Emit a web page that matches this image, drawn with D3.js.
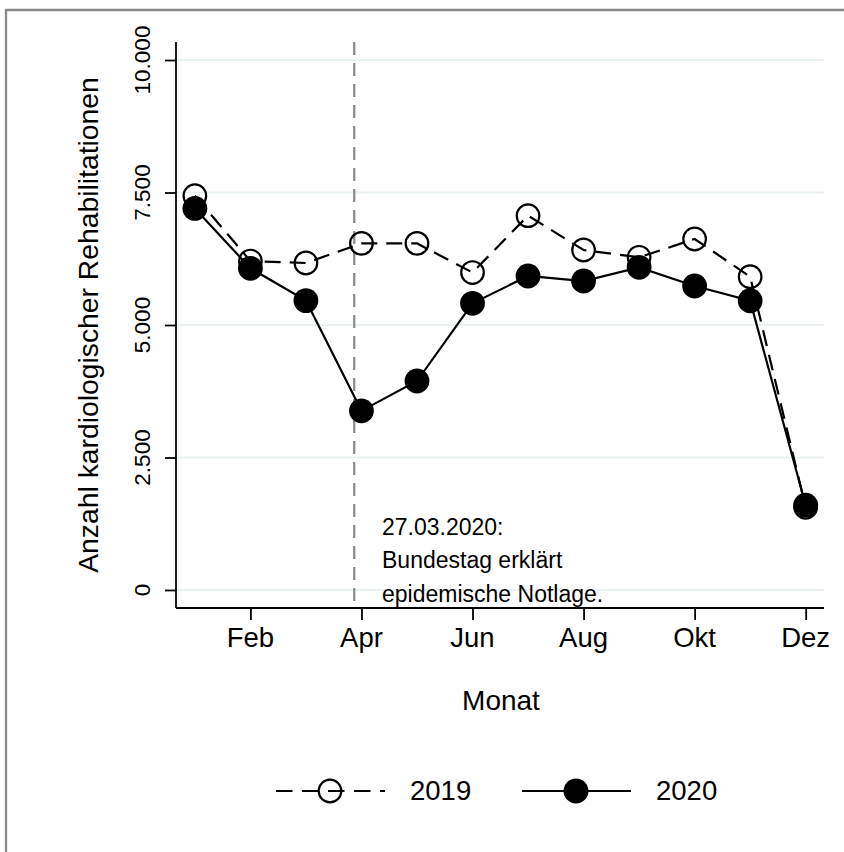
<!DOCTYPE html>
<html>
<head>
<meta charset="utf-8">
<script src="https://cdn.jsdelivr.net/npm/d3@7"></script>
<style>
  html, body { margin: 0; padding: 0; background: #fff; }
  svg { display: block; font-family: "Liberation Sans", Arial, Helvetica, sans-serif; }
</style>
</head>
<body>
<svg id="chart" width="844" height="852"></svg>
<script>
// ---- data ----
const months = [1, 2, 3, 4, 5, 6, 7, 8, 9, 10, 11, 12];
const values2019 = [7440, 6207, 6170, 6540, 6540, 5990, 7063, 6415, 6277, 6623, 5912, 1560];
const values2020 = [7200, 6070, 5460, 3380, 3943, 5409, 5925, 5830, 6088, 5736, 5458, 1600];
const xTickMonths = [2, 4, 6, 8, 10, 12];
const xTickLabels = ["Feb", "Apr", "Jun", "Aug", "Okt", "Dez"];
const yTickValues = [0, 2500, 5000, 7500, 10000];
const yTickLabels = ["0", "2.500", "5.000", "7.500", "10.000"];
const seriesNames = ["2019", "2020"];
const eventMonth = 3.87;
const eventLines = ["27.03.2020:", "Bundestag erklärt", "epidemische Notlage."];

// ---- layout ----
const svg = d3.select("#chart");
const x = d3.scaleLinear().domain([0.66, 12.33]).range([176, 824]);
const y = d3.scaleLinear().domain([-340, 10340]).range([608, 42]);

// outer frame
svg.append("path")
  .attr("d", "M6,860 L6,10 L850,10")
  .attr("fill", "none").attr("stroke", "#8a8a8a").attr("stroke-width", 2.3);

// grid lines
svg.append("g").selectAll("line").data(yTickValues).join("line")
  .attr("x1", x.range()[0]).attr("x2", x.range()[1])
  .attr("y1", d => y(d)).attr("y2", d => y(d))
  .attr("stroke", "#eaf1f2").attr("stroke-width", 2);

// event line
svg.append("line")
  .attr("x1", x(eventMonth)).attr("x2", x(eventMonth))
  .attr("y1", y.range()[1]).attr("y2", y.range()[0])
  .attr("stroke", "#8a8a8a").attr("stroke-width", 2.2)
  .attr("stroke-dasharray", "13,8");

// event annotation
const ann = svg.append("text")
  .attr("font-size", 23).attr("fill", "#000");
eventLines.forEach((t, i) => {
  ann.append("tspan").attr("x", 382).attr("y", 535 + i * 33.3).text(t);
});

// axes
const yAxis = svg.append("g").attr("transform", `translate(${x.range()[0]},0)`)
  .call(d3.axisLeft(y).tickValues(yTickValues).tickSize(11).tickFormat(""));
const xAxis = svg.append("g").attr("transform", `translate(0,${y.range()[0]})`)
  .call(d3.axisBottom(x).tickValues(xTickMonths).tickSize(12).tickFormat(""));
[yAxis, xAxis].forEach(g => {
  g.select(".domain").attr("stroke", "#000").attr("stroke-width", 1.8)
    .attr("d", g === yAxis
      ? `M0,${y.range()[0]}V${y.range()[1]}`
      : `M${x.range()[0]},0H${x.range()[1]}`);
  g.selectAll(".tick line").attr("stroke", "#000").attr("stroke-width", 1.8);
});

// y tick labels (rotated)
svg.append("g").selectAll("text").data(yTickValues).join("text")
  .attr("transform", d => `translate(150,${y(d)}) rotate(-90)`)
  .attr("text-anchor", "middle").attr("font-size", 22.5)
  .text((d, i) => yTickLabels[i]);

// x tick labels
svg.append("g").selectAll("text").data(xTickMonths).join("text")
  .attr("x", d => x(d)).attr("y", 647)
  .attr("text-anchor", "middle").attr("font-size", 27.5)
  .text((d, i) => xTickLabels[i]);

// axis titles
svg.append("text").attr("x", 501).attr("y", 710)
  .attr("text-anchor", "middle").attr("font-size", 28).text("Monat");
svg.append("text")
  .attr("transform", "translate(98,325) rotate(-90)")
  .attr("text-anchor", "middle").attr("font-size", 28.3)
  .text("Anzahl kardiologischer Rehabilitationen");

// series
const line = d3.line().x((d, i) => x(months[i])).y(d => y(d));

svg.append("path").datum(values2019)
  .attr("d", line).attr("fill", "none")
  .attr("stroke", "#000").attr("stroke-width", 2.2)
  .attr("stroke-dasharray", "16,9");
svg.append("g").selectAll("circle").data(values2019).join("circle")
  .attr("cx", (d, i) => x(months[i])).attr("cy", d => y(d)).attr("r", 11.3)
  .attr("fill", "none").attr("stroke", "#000").attr("stroke-width", 2.2);

svg.append("path").datum(values2020)
  .attr("d", line).attr("fill", "none")
  .attr("stroke", "#000").attr("stroke-width", 2.2);
svg.append("g").selectAll("circle").data(values2020).join("circle")
  .attr("cx", (d, i) => x(months[i])).attr("cy", d => y(d)).attr("r", 12.4)
  .attr("fill", "#000");

// legend
const leg = svg.append("g");
const legY = 791;
// 2019
leg.append("line").attr("x1", 276).attr("x2", 385).attr("y1", legY).attr("y2", legY)
  .attr("stroke", "#000").attr("stroke-width", 2.2).attr("stroke-dasharray", "16.5,9.5");
leg.append("circle").attr("cx", 330).attr("cy", legY).attr("r", 11.3)
  .attr("fill", "none").attr("stroke", "#000").attr("stroke-width", 2.2);
leg.append("text").attr("x", 410).attr("y", 800).attr("font-size", 27.5).text(seriesNames[0]);
// 2020
leg.append("line").attr("x1", 522).attr("x2", 631).attr("y1", legY).attr("y2", legY)
  .attr("stroke", "#000").attr("stroke-width", 2.2);
leg.append("circle").attr("cx", 576).attr("cy", legY).attr("r", 12.5).attr("fill", "#000");
leg.append("text").attr("x", 656).attr("y", 800).attr("font-size", 27.5).text(seriesNames[1]);
</script>
</body>
</html>
